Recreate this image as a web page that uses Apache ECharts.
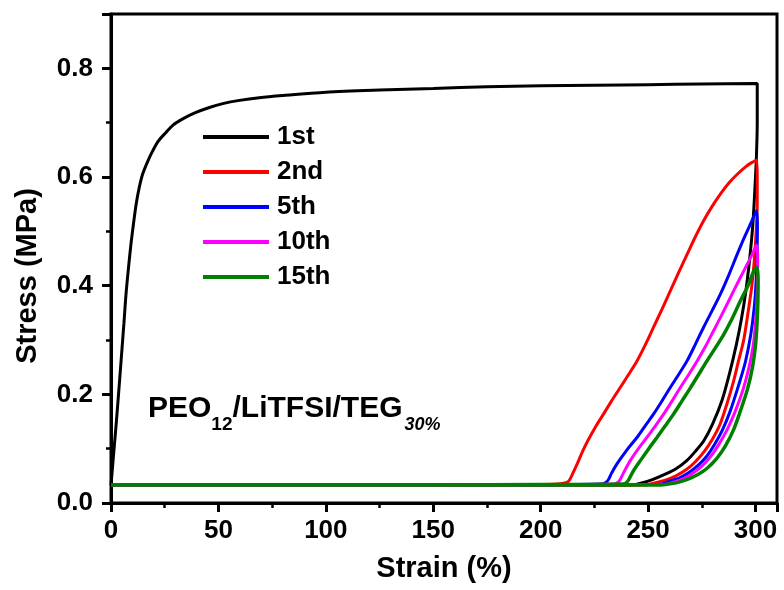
<!DOCTYPE html>
<html>
<head>
<meta charset="utf-8">
<script src="https://cdn.jsdelivr.net/npm/echarts@6/dist/echarts.min.js"></script>
<style>
html,body{margin:0;padding:0;background:#fff;}
#chart{width:784px;height:590px;}
</style>
</head>
<body>
<div id="chart"></div>
<script>
// ---- Data (strain %, stress MPa) ----
const seriesNames = ['1st', '2nd', '5th', '10th', '15th'];
const seriesColors = ['#000000', '#ff0000', '#0000ff', '#ff00ff', '#008000'];

const strain1st = [0, 1, 2.3, 3.5, 4.7, 6, 7, 8.2, 9.3, 10.5, 11.7, 13, 14.7, 17, 19.4, 22, 25.6, 29, 33.4, 39, 45.8, 52, 59.8, 69, 80, 100, 125, 150, 175, 200, 225, 250, 275, 300.8,
  300.8, 300.4, 299.6, 298.7, 297.3, 295.5, 293.5, 291, 288, 284.5, 280, 276, 272, 268, 263, 258, 252, 247, 242, 0];
const stress1st = [0.033, 0.08, 0.14, 0.20, 0.262, 0.33, 0.385, 0.435, 0.477, 0.515, 0.55, 0.578, 0.605, 0.628, 0.648, 0.666, 0.682, 0.696, 0.707, 0.718, 0.728, 0.735, 0.741, 0.746, 0.75, 0.756, 0.760, 0.763, 0.766, 0.768, 0.769, 0.770, 0.771, 0.772,
  0.70, 0.636, 0.57, 0.51, 0.45, 0.39, 0.34, 0.29, 0.24, 0.19, 0.145, 0.115, 0.095, 0.078, 0.063, 0.053, 0.043, 0.037, 0.033, 0.033];

const strain2nd = [0, 100, 200, 210, 213, 215, 217, 219.5, 222, 225.5, 229.3, 233, 237.1, 241, 244.9, 248.8, 252.6, 256.5, 260.4, 264.3, 268.2, 272, 275.9, 279.8, 283.7, 287.6, 291.5, 295.5, 298, 300.5,
  300.8, 300.8, 300.3, 299.5, 298.3, 296.5, 294.5, 292, 289.5, 286.5, 283.5, 280, 276, 272, 268, 263, 258, 253, 248, 0];
const stress2nd = [0.033, 0.033, 0.034, 0.036, 0.040, 0.055, 0.072, 0.095, 0.115, 0.14, 0.164, 0.188, 0.213, 0.237, 0.262, 0.292, 0.324, 0.357, 0.391, 0.425, 0.458, 0.49, 0.52, 0.546, 0.569, 0.589, 0.605, 0.619, 0.626, 0.631,
  0.60, 0.55, 0.50, 0.45, 0.40, 0.35, 0.30, 0.26, 0.22, 0.18, 0.145, 0.118, 0.094, 0.076, 0.062, 0.05, 0.042, 0.037, 0.033, 0.033];

const strain5th = [0, 100, 200, 228, 231, 233, 235.5, 240, 244.9, 248.8, 252.6, 256.5, 260.4, 264.3, 268.2, 272, 275.9, 279.8, 283.7, 287.6, 291.5, 294.6, 297.7, 300.5,
  300.9, 300.7, 300.3, 299.4, 297.8, 295.3, 292, 288.3, 284.8, 281, 277.5, 273.5, 269, 264.5, 260, 255, 0];
const stress5th = [0.033, 0.033, 0.034, 0.035, 0.040, 0.055, 0.072, 0.097, 0.121, 0.143, 0.164, 0.188, 0.213, 0.237, 0.262, 0.292, 0.324, 0.354, 0.385, 0.42, 0.458, 0.487, 0.514, 0.538,
  0.51, 0.46, 0.41, 0.36, 0.31, 0.26, 0.215, 0.17, 0.136, 0.108, 0.087, 0.07, 0.056, 0.046, 0.040, 0.034, 0.033];

const strain10th = [0, 100, 200, 234, 236.5, 238.5, 241.7, 245.5, 249.5, 253.4, 257.3, 261.2, 265.1, 269, 272.9, 276.8, 280.6, 284.5, 288.4, 292.3, 296.2, 298.5, 300.5,
  301, 300.9, 300.6, 300, 298.9, 297, 294.3, 290.7, 286.8, 282.8, 279, 275, 270.5, 266, 261.5, 257, 0];
const stress10th = [0.033, 0.033, 0.034, 0.035, 0.040, 0.055, 0.078, 0.10, 0.121, 0.142, 0.164, 0.188, 0.213, 0.237, 0.262, 0.289, 0.318, 0.348, 0.379, 0.41, 0.44, 0.458, 0.475,
  0.45, 0.41, 0.37, 0.33, 0.29, 0.25, 0.21, 0.17, 0.135, 0.107, 0.085, 0.068, 0.054, 0.044, 0.038, 0.034, 0.033];

const strain15th = [0, 100, 200, 238.5, 240.5, 243, 246.4, 250.3, 254.2, 258, 261.9, 265.8, 269.7, 273.6, 277.5, 281.4, 285.3, 289.2, 293.1, 296.5, 299.3, 300.5,
  301.2, 301.1, 300.7, 300, 298.6, 296.3, 293, 289.8, 286, 282, 277.5, 273, 268, 263, 258, 254, 0];
const stress15th = [0.033, 0.033, 0.034, 0.035, 0.040, 0.058, 0.078, 0.10, 0.121, 0.142, 0.164, 0.188, 0.212, 0.237, 0.262, 0.286, 0.311, 0.34, 0.373, 0.40, 0.428, 0.434,
  0.41, 0.37, 0.33, 0.29, 0.25, 0.21, 0.17, 0.135, 0.105, 0.082, 0.064, 0.052, 0.043, 0.037, 0.034, 0.033, 0.033];

const strainArrays = [strain1st, strain2nd, strain5th, strain10th, strain15th];
const stressArrays = [stress1st, stress2nd, stress5th, stress10th, stress15th];
const lineWidths = [3, 3, 3, 3, 3.5];

const xTicks = { min: 0, max: 310, interval: 50 };
const yTicks = { min: 0, max: 0.9, interval: 0.2 };

// ---- Chart ----
const FONT = '"Liberation Sans", Arial, Helvetica, sans-serif';
const chart = echarts.init(document.getElementById('chart'), null, { renderer: 'canvas' });

const series = seriesNames.map((name, i) => ({
  name: name,
  type: 'line',
  data: strainArrays[i].map((x, k) => [x, stressArrays[i][k]]),
  showSymbol: false,
  symbol: 'none',
  smooth: 0.3,
  color: seriesColors[i],
  lineStyle: { color: seriesColors[i], width: lineWidths[i] },
  animation: false,
  z: 2 + i
}));

const axisCommon = {
  axisLine: { show: true, onZero: false, lineStyle: { color: '#000', width: 3 } },
  axisTick: { show: true, inside: false, length: 9, lineStyle: { color: '#000', width: 3 } },
  minorTick: { show: true, splitNumber: 2, length: 5, lineStyle: { color: '#000', width: 2.5 } },
  splitLine: { show: false },
  minorSplitLine: { show: false }
};

chart.setOption({
  backgroundColor: '#fff',
  animation: false,
  grid: { left: 111, right: 7, top: 14, bottom: 87, show: true, borderColor: '#000', borderWidth: 3, backgroundColor: 'transparent' },
  xAxis: Object.assign({}, axisCommon, {
    type: 'value', min: xTicks.min, max: xTicks.max, interval: xTicks.interval,
    name: 'Strain (%)', nameLocation: 'middle', nameGap: 51,
    nameTextStyle: { fontFamily: FONT, fontSize: 29, fontWeight: 'bold', color: '#000' },
    axisLabel: { fontFamily: FONT, fontSize: 26, fontWeight: 'bold', color: '#000', margin: 15, showMaxLabel: false }
  }),
  yAxis: Object.assign({}, axisCommon, {
    type: 'value', min: yTicks.min, max: yTicks.max, interval: yTicks.interval,
    axisLabel: { fontFamily: FONT, fontSize: 26, fontWeight: 'bold', color: '#000', margin: 18, showMaxLabel: false,
      formatter: v => v.toFixed(1) }
  }),
  legend: {
    data: seriesNames,
    orient: 'vertical',
    left: 198, top: 119,
    icon: 'rect',
    itemWidth: 66, itemHeight: 4, itemGap: 9,
    selectedMode: false,
    textStyle: { fontFamily: FONT, fontSize: 26, fontWeight: 'bold', color: '#000', lineHeight: 26, padding: [0, 0, 0, 3] }
  },
  graphic: [{
    type: 'text',
    x: 28, y: 276,
    rotation: Math.PI / 2,
    silent: true,
    style: {
      text: 'Stress (MPa)', fill: '#000', align: 'center', verticalAlign: 'middle',
      font: 'bold 29px ' + FONT
    }
  }, {
    type: 'text',
    left: 148, top: 394,
    silent: true,
    style: {
      text: '{a|PEO}{s|12}{a|/LiTFSI/TEG}{t|30%}',
      fill: '#000',
      rich: {
        a: { fontFamily: FONT, fontSize: 30, fontWeight: 'bold', lineHeight: 30, verticalAlign: 'top', fill: '#000' },
        s: { fontFamily: FONT, fontSize: 19, fontWeight: 'bold', lineHeight: 19, verticalAlign: 'top', padding: [21, 0, 0, 0], fill: '#000' },
        t: { fontFamily: FONT, fontSize: 18, fontWeight: 'bold', fontStyle: 'italic', lineHeight: 18, verticalAlign: 'top', padding: [22, 0, 0, 2], fill: '#000' }
      }
    }
  }],
  series: series
});
</script>
</body>
</html>
